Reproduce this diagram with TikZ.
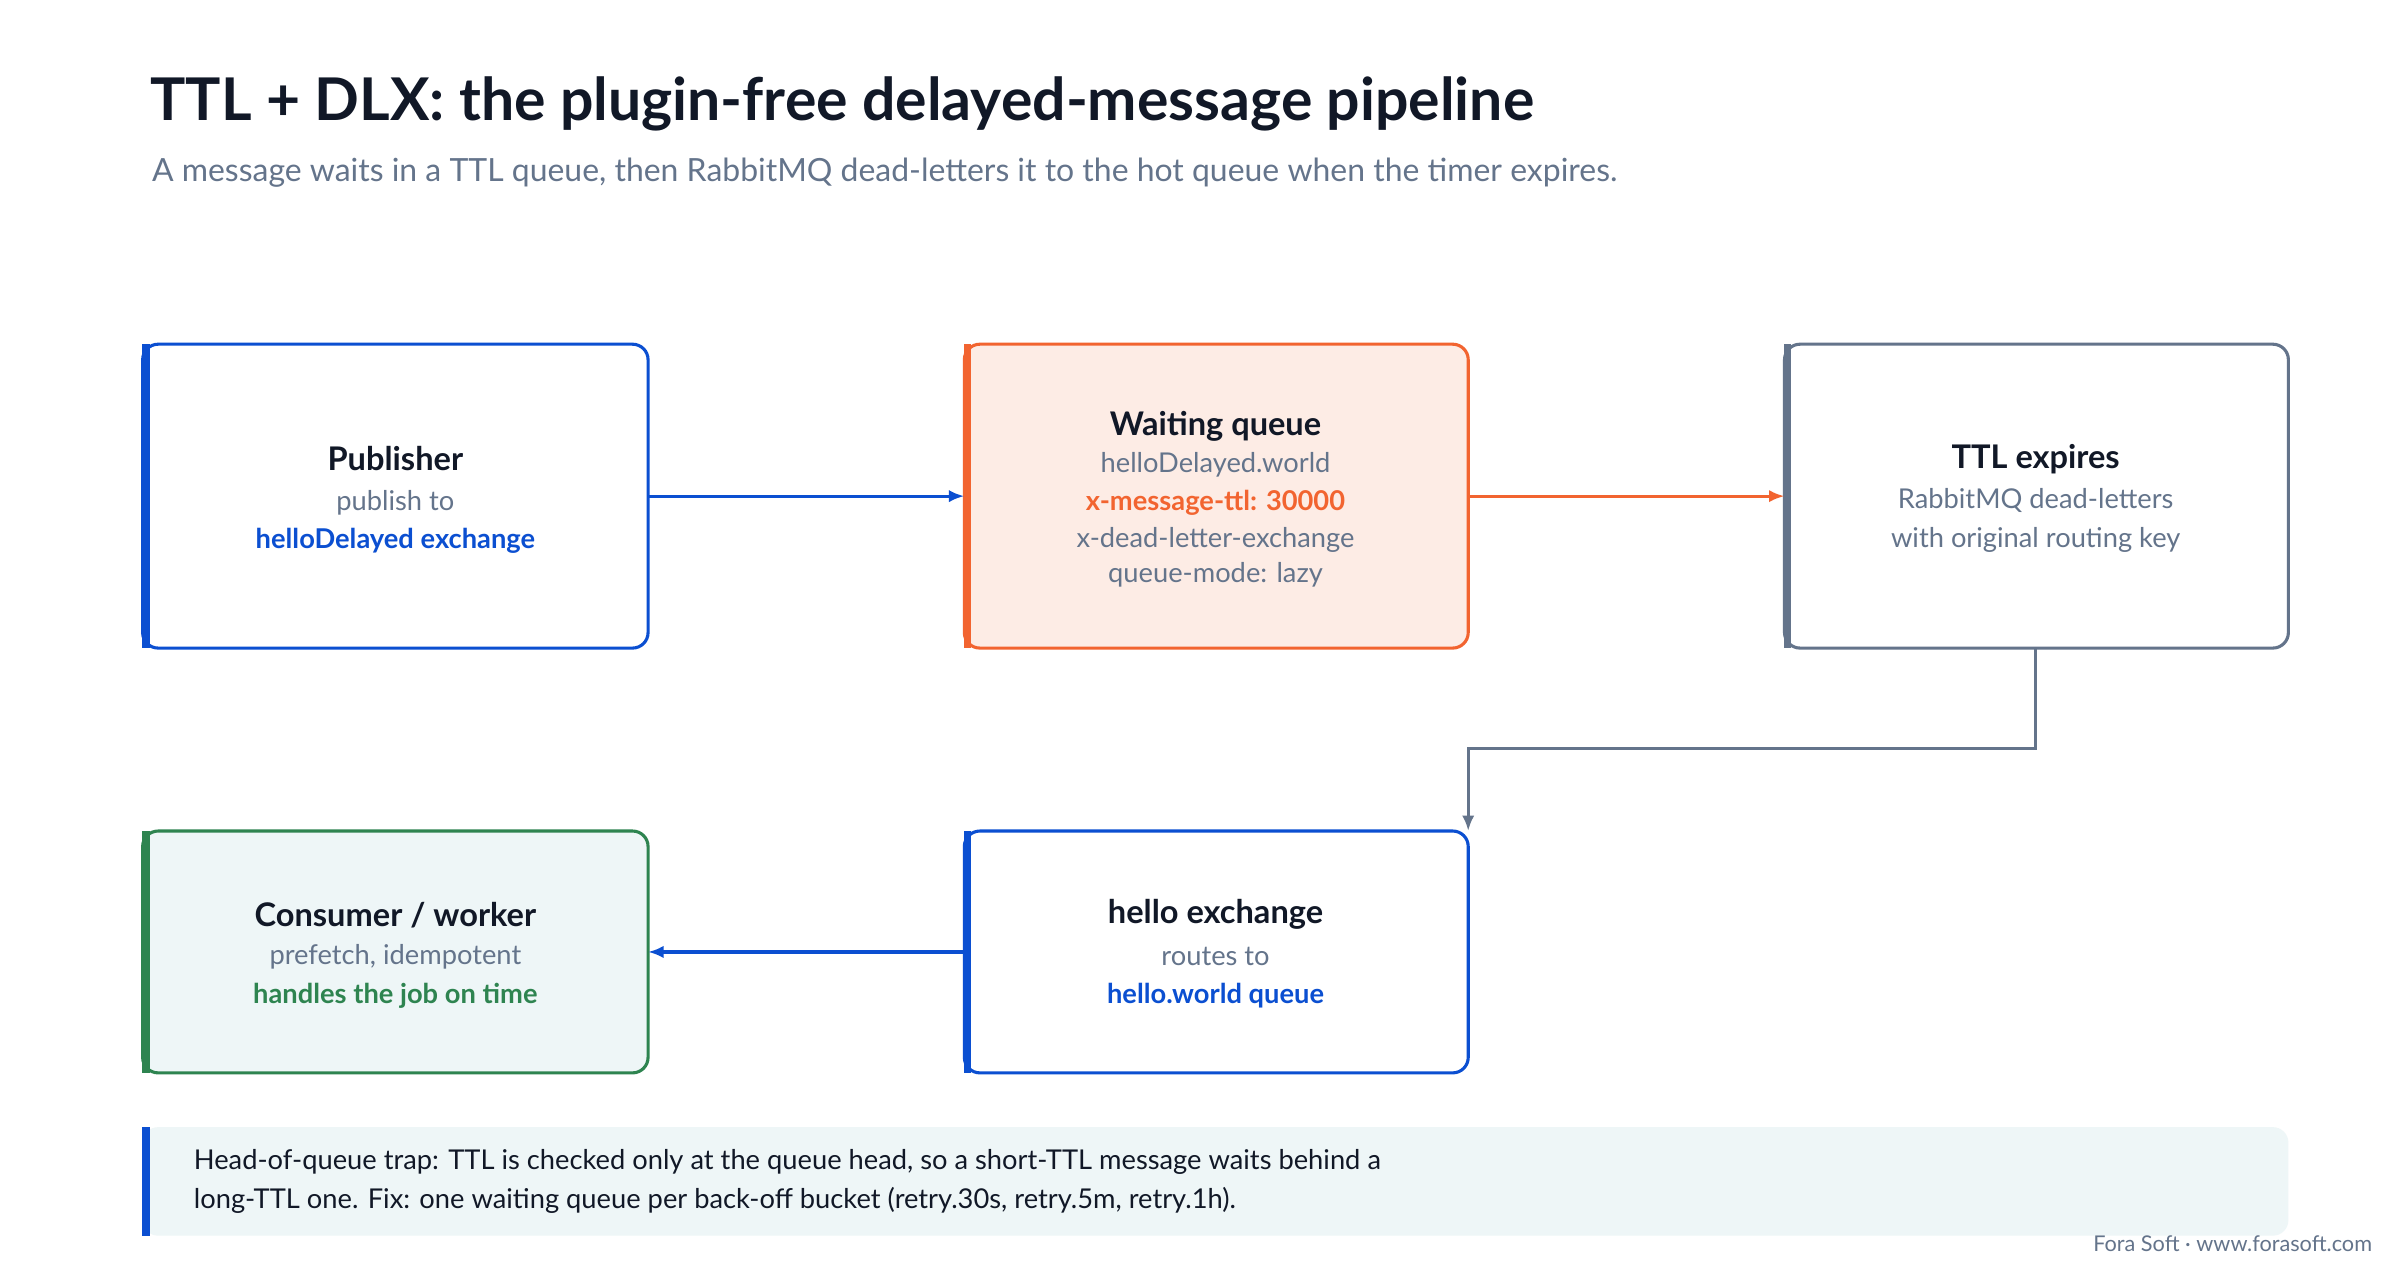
\documentclass[tikz,border=0pt]{standalone}
\usepackage{fontspec}
\setmainfont{Lato}
\usetikzlibrary{arrows.meta}
\definecolor{cblue}{HTML}{0B4FD1}
\definecolor{corange}{HTML}{F26430}
\definecolor{cgray}{HTML}{64748B}
\definecolor{cgreen}{HTML}{2E8450}
\definecolor{cdark}{HTML}{111827}
\definecolor{cwfill}{HTML}{FDECE5}
\definecolor{cgfill}{HTML}{EEF6F7}
\begin{document}
\begin{tikzpicture}[x=0.5pt,y=-0.5pt,
 box/.style={draw=#1,line width=1pt,rounded corners=5pt},
 bar/.style={draw=#1,line width=2.5pt},
 ttl/.style={font=\fontsize{10.5}{12}\selectfont\bfseries,text=cdark},
 sub/.style={font=\fontsize{8.8}{10}\selectfont,text=cgray},
 hl/.style={font=\fontsize{8.8}{10}\selectfont\bfseries,text=#1},
 arr/.style={draw=#1,line width=1pt,-{Latex[length=5pt,width=4pt]}}]
\useasboundingbox[fill=white] (0,0) rectangle (1548,826);
\node[anchor=base west,font=\fontsize{19}{22}\selectfont\bfseries,text=cdark] (title) at (90,78) {TTL + DLX: the plugin-free delayed-message pipeline};
\node[anchor=base west,font=\fontsize{10.3}{12}\selectfont,text=cgray] (subtitle) at (91,117) {A message waits in a TTL queue, then RabbitMQ dead-letters it to the hot queue when the timer expires.};
% boxes
\draw[box=cblue,fill=white] (92,222) rectangle (418,418);
\draw[bar=cblue] (94,222) -- (94,418);
\node (pub) at (255,320) {};
\draw[box=corange,fill=cwfill] (622,222) rectangle (947,418);
\draw[bar=corange] (624,222) -- (624,418);
\node (wait) at (784,320) {};
\draw[box=cgray,fill=white] (1151,222) rectangle (1476,418);
\draw[bar=cgray] (1153,222) -- (1153,418);
\node (ttlb) at (1313,320) {};
\draw[box=cgreen,fill=cgfill] (92,536) rectangle (418,692);
\draw[bar=cgreen] (94,536) -- (94,692);
\node (cons) at (255,614) {};
\draw[box=cblue,fill=white] (622,536) rectangle (947,692);
\draw[bar=cblue] (624,536) -- (624,692);
\node (hello) at (784,614) {};
% texts
\node[ttl] (t1) at (255,296) {Publisher};
\node[sub] (t1a) at (255,324) {publish to};
\node[hl=cblue] (t1b) at (255,349) {helloDelayed exchange};
\node[ttl] (t2) at (784,275) {Waiting queue};
\node[sub] (t2a) at (784,300) {helloDelayed.world};
\node[hl=corange] (t2b) at (784,324) {x-message-ttl: 30000};
\node[sub] (t2c) at (784,348) {x-dead-letter-exchange};
\node[sub] (t2d) at (784,371) {queue-mode: lazy};
\node[ttl] (t3) at (1313,296) {TTL expires};
\node[sub] (t3a) at (1313,323) {RabbitMQ dead-letters};
\node[sub] (t3b) at (1313,348) {with original routing key};
\node[ttl] (t4) at (255,590) {Consumer / worker};
\node[sub] (t4a) at (255,617) {prefetch, idempotent};
\node[hl=cgreen] (t4b) at (255,642) {handles the job on time};
\node[ttl] (t5) at (784,590) {hello exchange};
\node[sub] (t5a) at (784,617) {routes to};
\node[hl=cblue] (t5b) at (784,642) {hello.world queue};
% connectors
\coordinate (p1) at (418,320); \coordinate (w0) at (622,320);
\coordinate (w1) at (947,320); \coordinate (e0) at (1151,320);
\coordinate (e1) at (1313,418); \coordinate (h0) at (947,536);
\coordinate (h1) at (622,614); \coordinate (c0) at (418,614);
\draw[arr=cblue] (p1) -- (w0);
\draw[arr=corange] (w1) -- (e0);
\draw[arr=cgray] (e1) -- (1313,483) -- (947,483) -- (h0);
\draw[arr=cblue] (h1) -- (c0);
% note
\fill[cgfill,rounded corners=5pt] (92,727) rectangle (1476,797);
\draw[bar=cblue] (94,727) -- (94,797);
\node[anchor=west,align=left,font=\fontsize{8.8}{12.5}\selectfont,text=cdark] (note) at (118,762) {Head-of-queue trap: TTL is checked only at the queue head, so a short-TTL message waits behind a\\long-TTL one. Fix: one waiting queue per back-off bucket (retry.30s, retry.5m, retry.1h).};
\node[anchor=base east,font=\fontsize{7}{8}\selectfont,text=cgray] (foot) at (1537,807) {Fora Soft · www.forasoft.com};
\end{tikzpicture}
\end{document}
